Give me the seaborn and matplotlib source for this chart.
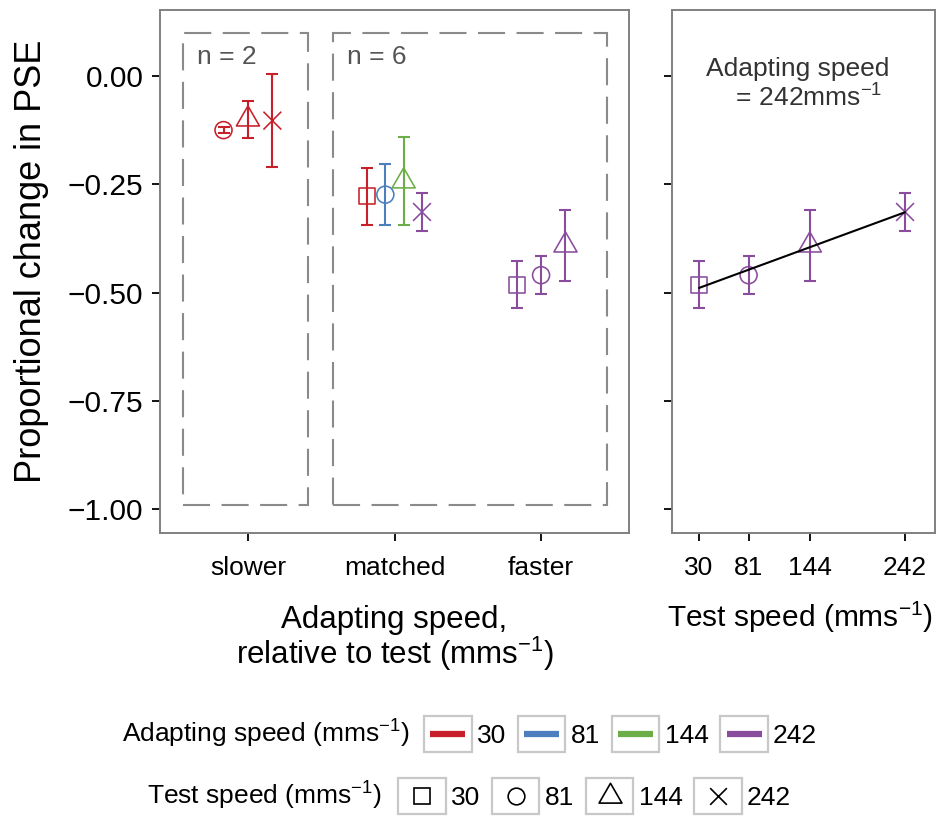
import numpy as np
import pandas as pd
import matplotlib
matplotlib.use("Agg")
import matplotlib.pyplot as plt
from matplotlib.lines import Line2D
from matplotlib.patches import Rectangle
from matplotlib.path import Path
from matplotlib.legend_handler import HandlerBase
import seaborn as sns

# ---- data -------------------------------------------------------------
conditions = ["slower", "matched", "faster"]
condition = ["slower", "slower", "slower",
             "matched", "matched", "matched", "matched",
             "faster", "faster", "faster"]
adapting_speed = [30, 30, 30, 30, 81, 144, 242, 242, 242, 242]
test_speed = [81, 144, 242, 30, 81, 144, 242, 30, 81, 144]
pse_change = [-0.125, -0.100, -0.103, -0.278, -0.274, -0.243, -0.314,
              -0.482, -0.460, -0.391]
pse_se = [0.007, 0.043, 0.107, 0.066, 0.071, 0.102, 0.044,
          0.054, 0.044, 0.082]
speeds = [30, 81, 144, 242]
speed_labels = ["30", "81", "144", "242"]
y_ticks = [0.0, -0.25, -0.5, -0.75, -1.0]
group_labels = ["n = 2", "n = 6"]
fast_adapter = 242

# ---- style ------------------------------------------------------------
sns.set_theme(style="white")
plt.rcParams["font.family"] = ["Liberation Sans", "DejaVu Sans"]
plt.rcParams["mathtext.fontset"] = "custom"
plt.rcParams["mathtext.rm"] = "Liberation Sans"
plt.rcParams["mathtext.it"] = "Liberation Sans"
plt.rcParams["mathtext.bf"] = "Liberation Sans"
plt.rcParams["text.color"] = "black"
plt.rcParams["axes.labelcolor"] = "black"

speed_colors = {30: "#C8202A", 81: "#4D7FBE", 144: "#6BAE48", 242: "#8A4C9D"}

# open marker shapes: square, circle, equilateral triangle, diagonal cross
tri_path = Path([(0, 1), (-0.866, -0.5), (0.866, -0.5), (0, 1)],
                [Path.MOVETO, Path.LINETO, Path.LINETO, Path.CLOSEPOLY])
cross_path = Path([(-1, -1), (1, 1), (-1, 1), (1, -1)],
                  [Path.MOVETO, Path.LINETO, Path.MOVETO, Path.LINETO])
speed_markers = {30: "s", 81: "o", 144: tri_path, 242: cross_path}
marker_area = {30: 135, 81: 150, 144: 370, 242: 165}

df = pd.DataFrame({"condition": condition, "adapt": adapting_speed,
                   "test": test_speed, "pse": pse_change, "se": pse_se})

# dodge points within each condition, ordered by test speed
dodge = 0.5
xpos = np.zeros(len(df))
for c, grp in df.groupby("condition"):
    order = grp.sort_values("test").index
    n = len(order)
    for rank, i in enumerate(order):
        xpos[i] = conditions.index(c) + (rank - (n - 1) / 2) * dodge / n
df["xpos"] = xpos

W, H = 943, 817
fig = plt.figure(figsize=(W / 100, H / 100), dpi=100)
ax1 = fig.add_axes([160 / W, 1 - 533 / H, (629 - 160) / W, (533 - 10) / H])
ax2 = fig.add_axes([672 / W, 1 - 533 / H, (935 - 672) / W, (533 - 10) / H],
                   sharey=ax1)


def hollow(ax):
    coll = ax.collections[-1]
    coll.set_edgecolor(coll.get_facecolor())
    coll.set_facecolor("none")


def draw_errorbars(ax, data, xcol):
    for a, sub in data.groupby("adapt"):
        ax.errorbar(sub[xcol], sub["pse"], yerr=sub["se"], fmt="none",
                    ecolor=speed_colors[a], elinewidth=1.5, capsize=4.3,
                    capthick=1.5, zorder=2)


# ---- left panel: adapting speed relative to test ----------------------
for (x0, x1), lab in zip([(-0.44, 0.41), (0.58, 2.45)], group_labels):
    ax1.add_patch(Rectangle((x0, -0.99), x1 - x0, 1.09, fill=False,
                            ec="#8a8a8a", lw=1.5, ls=(0, (13, 5.5)),
                            zorder=1))
    ax1.text(x0 + 0.095, 0.072, lab, ha="left", va="top", fontsize=19,
             color="#555555")

draw_errorbars(ax1, df, "xpos")
sns.scatterplot(data=df, x="xpos", y="pse", hue="adapt", style="test",
                size="test", palette=speed_colors, markers=speed_markers,
                sizes=marker_area, legend=False, linewidth=1.15, ax=ax1,
                zorder=3)
hollow(ax1)

ax1.set_xlim(-0.6, 2.6)
ax1.set_ylim(-1.0554, 0.1524)
ax1.set_xticks(range(len(conditions)))
ax1.set_xticklabels(conditions)
ax1.set_yticks(y_ticks)
ax1.set_yticklabels([f"{v:.2f}".replace("-", "\u2212") for v in y_ticks])
ax1.set_xlabel("Adapting speed,\nrelative to test (mms$^{-1}$)",
               fontsize=22.5, linespacing=1.0)
ax1.xaxis.set_label_coords(0.5, -0.138)
ax1.set_ylabel("Proportional change in PSE", fontsize=26)
ax1.yaxis.set_label_coords(-0.237, 0.52)

# ---- right panel: fastest adapter across test speeds ------------------
right = df[df["adapt"] == fast_adapter].sort_values("test")
draw_errorbars(ax2, right, "test")
sns.scatterplot(data=right, x="test", y="pse", hue="adapt", style="test",
                size="test", palette=speed_colors, markers=speed_markers,
                sizes=marker_area, legend=False, linewidth=1.15, ax=ax2,
                zorder=3)
hollow(ax2)
sns.regplot(data=right, x="test", y="pse", scatter=False, ci=None,
            truncate=True, color="black", line_kws={"lw": 1.5, "zorder": 4},
            ax=ax2)
ax2.text(0.479, 0.858, "Adapting speed\n   = 242mms$^{-1}$", transform=ax2.transAxes,
         ha="center", va="center", fontsize=19, color="#333333",
         linespacing=1.15)
ax2.set_xlim(2.2, 272.8)
ax2.set_xticks(speeds)
ax2.set_xticklabels(speed_labels)
ax2.tick_params(axis="y", labelleft=False)
ax2.set_ylabel("")
ax2.set_xlabel("Test speed (mms$^{-1}$)", fontsize=21.5)
ax2.xaxis.set_label_coords(0.487, -0.128)

for ax in (ax1, ax2):
    for sp in ax.spines.values():
        sp.set_visible(True)
        sp.set_color("#808080")
        sp.set_linewidth(1.4)
    ax.tick_params(axis="both", direction="out", length=6, width=1.3,
                   color="black", labelcolor="black",
                   bottom=True, left=True)
    ax.tick_params(axis="x", pad=10.5, labelsize=19)
    ax.tick_params(axis="y", pad=6, labelsize=21.5)


# ---- legends ----------------------------------------------------------
class BoxedKey(HandlerBase):
    def create_artists(self, legend, orig_handle, xdescent, ydescent,
                       width, height, fontsize, trans):
        frame = Rectangle((-xdescent, -ydescent), width, height,
                          facecolor="white", edgecolor="#c8c8c8", lw=1.6,
                          transform=trans)
        cx = -xdescent + width / 2
        cy = -ydescent + height / 2
        if orig_handle.get_linestyle() not in ("None", "none", ""):
            pad = width * 0.13
            key = Line2D([-xdescent + pad, -xdescent + width - pad], [cy, cy],
                         color=orig_handle.get_color(),
                         lw=orig_handle.get_linewidth(),
                         solid_capstyle="butt", transform=trans)
        else:
            key = Line2D([cx], [cy])
            key.update_from(orig_handle)
            key.set_transform(trans)
        return [frame, key]


line_handles = [Line2D([], [], color=speed_colors[s], lw=4.5) for s in speeds]
legend_ms = {30: 11.5, 81: 12, 144: 19, 242: 12}
marker_handles = [Line2D([], [], ls="none", marker=speed_markers[s],
                         ms=legend_ms[s], mfc="none", mec="black", mew=1.2)
                  for s in speeds]

leg_kw = dict(loc="center left", ncol=4, frameon=False, fontsize=19,
              handlelength=1.8, handleheight=1.78, handletextpad=0.2,
              columnspacing=0.45, borderpad=0, borderaxespad=0,
              handler_map={Line2D: BoxedKey()})
rows = [(line_handles, 424, 734, 410, "Adapting speed (mms$^{-1}$)"),
        (marker_handles, 398, 796, 382, "Test speed (mms$^{-1}$)")]
for handles, x0, yc, xt, title in rows:
    fig.legend(handles, speed_labels,
               bbox_to_anchor=(x0 / W, 1 - yc / H), **leg_kw)
    fig.text(xt / W, 1 - (yc + 9) / H, title, ha="right", va="baseline",
             fontsize=19)

fig.savefig("out.png", dpi=100)
